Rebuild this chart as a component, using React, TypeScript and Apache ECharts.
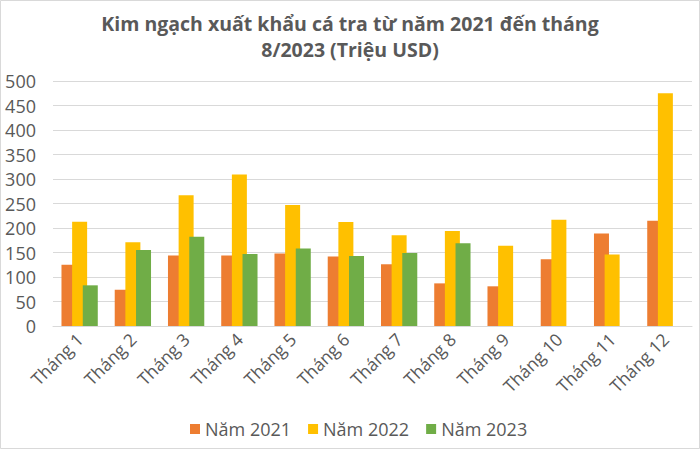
import React, { useEffect, useRef } from "react";
import * as echarts from "echarts";

const categories = ["Tháng 1", "Tháng 2", "Tháng 3", "Tháng 4", "Tháng 5", "Tháng 6", "Tháng 7", "Tháng 8", "Tháng 9", "Tháng 10", "Tháng 11", "Tháng 12"];
const values2021 = [125, 74, 144, 144, 148, 142, 126, 87, 81, 136, 189, 215];
const values2022 = [213, 171, 267, 309, 247, 212, 185, 194, 164, 217, 146, 475];
const values2023 = [83, 155, 182, 147, 158, 143, 149, 169];
const seriesNames = ["Năm 2021", "Năm 2022", "Năm 2023"];
const titleText = "Kim ngạch xuất khẩu cá tra từ năm 2021 đến tháng\n8/2023 (Triệu USD)";

const FONT = "'Open Sans', 'Noto Sans', sans-serif";
const TEXT = "#595959";

export default function App() {
  const ref = useRef<HTMLDivElement>(null);
  useEffect(() => {
    document.body.style.margin = "0";
    const chart = echarts.init(ref.current!, undefined, { renderer: "svg" });
    const barStyle = (name: string, color: string, data: number[]) => ({
      name,
      type: "bar",
      data,
      barWidth: 15,
      barGap: "-29%",
      barCategoryGap: "32%",
      itemStyle: { color },
    });
    chart.setOption({
      animation: false,
      color: ["#ED7D31", "#FFC000", "#70AD47"],
      textStyle: { fontFamily: FONT },
      title: {
        text: titleText,
        left: "center",
        top: 5,
        textStyle: { fontFamily: FONT, fontSize: 19.5, fontWeight: "bold", color: TEXT, lineHeight: 26 },
      },
      legend: {
        bottom: 6,
        left: 185,
        itemWidth: 10,
        itemHeight: 10,
        itemGap: 17,
        icon: "rect",
        textStyle: { fontFamily: FONT, fontSize: 18, color: TEXT },
        data: seriesNames,
      },
      grid: { left: 53, right: 8, top: 81, bottom: 123, containLabel: false },
      xAxis: {
        type: "category",
        data: categories,
        axisLine: { lineStyle: { color: "#D9D9D9", width: 1 } },
        axisTick: { show: false },
        axisLabel: { rotate: 45, color: TEXT, fontSize: 17.5, fontFamily: FONT, margin: 10, interval: 0 },
      },
      yAxis: {
        type: "value",
        min: 0,
        max: 500,
        interval: 50,
        axisLine: { show: false },
        axisTick: { show: false },
        splitLine: { lineStyle: { color: "#D9D9D9", width: 1 } },
        axisLabel: { color: TEXT, fontSize: 18, fontFamily: FONT, margin: 17 },
      },
      graphic: [
        {
          type: "rect",
          shape: { x: 0.5, y: 0.5, width: 699, height: 448 },
          style: { fill: "none", stroke: "#D9D9D9", lineWidth: 1 },
          silent: true,
        },
      ],
      series: [
        barStyle(seriesNames[0], "#ED7D31", values2021),
        barStyle(seriesNames[1], "#FFC000", values2022),
        barStyle(seriesNames[2], "#70AD47", values2023),
      ],
    });
    return () => chart.dispose();
  }, []);
  return <div ref={ref} style={{ width: 700, height: 449 }} />;
}
